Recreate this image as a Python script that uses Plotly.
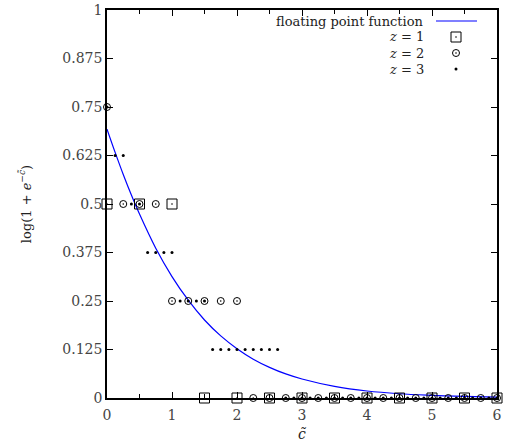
import plotly.graph_objects as go

# Blue curve samples
curve_x = [0, 0.125, 0.25, 0.375, 0.5, 0.75, 1, 1.25, 1.5, 1.75, 2, 2.25, 2.5, 2.75, 3, 3.5, 4, 4.5, 5, 5.5, 6]
curve_y = [0.693, 0.633, 0.576, 0.523, 0.474, 0.386, 0.313, 0.252, 0.201, 0.160, 0.127, 0.100, 0.079, 0.062,
           0.049, 0.030, 0.018, 0.011, 0.007, 0.004, 0.002]

# z = 1 (step 0.5)
z1_x = [0, 0.5, 1, 1.5, 2, 2.5, 3, 3.5, 4, 4.5, 5, 5.5, 6]
z1_y = [0.5, 0.5, 0.5, 0, 0, 0, 0, 0, 0, 0, 0, 0, 0]

# z = 2 (step 0.25)
z2_x = [0, 0.25, 0.5, 0.75, 1, 1.25, 1.5, 1.75, 2, 2.25, 2.5, 2.75, 3, 3.25, 3.5, 3.75, 4,
        4.25, 4.5, 4.75, 5, 5.25, 5.5, 5.75, 6]
z2_y = [0.75, 0.5, 0.5, 0.5, 0.25, 0.25, 0.25, 0.25, 0.25, 0, 0, 0, 0, 0, 0, 0, 0,
        0, 0, 0, 0, 0, 0, 0, 0]

# z = 3 (step 0.125)
z3_x = [0, 0.125, 0.25, 0.375, 0.5, 0.625, 0.75, 0.875, 1, 1.125, 1.25, 1.375, 1.5,
        1.625, 1.75, 1.875, 2, 2.125, 2.25, 2.375, 2.5, 2.625,
        2.75, 2.875, 3, 3.125, 3.25, 3.375, 3.5, 3.625, 3.75, 3.875, 4, 4.125, 4.25, 4.375, 4.5,
        4.625, 4.75, 4.875, 5, 5.125, 5.25, 5.375, 5.5, 5.625, 5.75, 5.875, 6]
z3_y = [0.75, 0.625, 0.625, 0.5, 0.5, 0.375, 0.375, 0.375, 0.375, 0.25, 0.25, 0.25, 0.25,
        0.125, 0.125, 0.125, 0.125, 0.125, 0.125, 0.125, 0.125, 0.125,
        0, 0, 0, 0, 0, 0, 0, 0, 0, 0, 0, 0, 0, 0, 0,
        0, 0, 0, 0, 0, 0, 0, 0, 0, 0, 0, 0]

x_ticks = [0, 1, 2, 3, 4, 5, 6]
y_ticks = [0, 0.125, 0.25, 0.375, 0.5, 0.625, 0.75, 0.875, 1]
y_ticktext = ["0", "0.125", "0.25", "0.375", "0.5", "0.625", "0.75", "0.875", "1"]

FONT = "'DejaVu Serif', 'Liberation Serif', serif"
W, H = 507, 447
L, R, T, B = 107, 10, 10, 49

fig = go.Figure()
fig.add_trace(go.Scatter(x=curve_x, y=curve_y, mode="lines", line=dict(color="#0000ff", width=1.2, shape="spline"),
                         showlegend=False, cliponaxis=True))
fig.add_trace(go.Scatter(x=z1_x, y=z1_y, mode="markers", cliponaxis=False, showlegend=False,
                         marker=dict(symbol="square-open-dot", size=10, color="black", line=dict(width=1, color="black"))))
fig.add_trace(go.Scatter(x=z2_x, y=z2_y, mode="markers", cliponaxis=False, showlegend=False,
                         marker=dict(symbol="circle-open-dot", size=7, color="black", line=dict(width=1, color="black"))))
fig.add_trace(go.Scatter(x=z3_x, y=z3_y, mode="markers", cliponaxis=False, showlegend=False,
                         marker=dict(symbol="circle", size=3, color="black", line=dict(width=0))))

pw, ph = W - L - R, H - T - B
def px2paper(px, py):
    return (px - L) / pw, (H - B - py) / ph

# manual legend (gnuplot style: text right, sample left)
leg_text = ["floating point function", "<i>z</i> = 1", "<i>z</i> = 2", "<i>z</i> = 3"]
leg_py = [21, 37, 53, 69]
for txt, py in zip(leg_text, leg_py):
    xp, yp = px2paper(426, py)
    fig.add_annotation(x=xp, y=yp, xref="paper", yref="paper", text=txt, showarrow=False,
                       xanchor="right", yanchor="middle", font=dict(family=FONT, size=13, color="#222"))
# line sample
x0, y0 = px2paper(436, leg_py[0])
x1, _ = px2paper(477, leg_py[0])
fig.add_shape(type="line", xref="paper", yref="paper", x0=x0, x1=x1, y0=y0, y1=y0,
              line=dict(color="#0000ff", width=1.2))
# marker samples via an overlay axis in paper space
lx, ly1 = px2paper(456, leg_py[1])
_, ly2 = px2paper(456, leg_py[2])
_, ly3 = px2paper(456, leg_py[3])
fig.add_trace(go.Scatter(x=[lx], y=[ly1], xaxis="x2", yaxis="y2", mode="markers", showlegend=False, cliponaxis=False,
                         marker=dict(symbol="square-open-dot", size=10, color="black", line=dict(width=1, color="black"))))
fig.add_trace(go.Scatter(x=[lx], y=[ly2], xaxis="x2", yaxis="y2", mode="markers", showlegend=False, cliponaxis=False,
                         marker=dict(symbol="circle-open-dot", size=7, color="black", line=dict(width=1, color="black"))))
fig.add_trace(go.Scatter(x=[lx], y=[ly3], xaxis="x2", yaxis="y2", mode="markers", showlegend=False, cliponaxis=False,
                         marker=dict(symbol="circle", size=3, color="black", line=dict(width=0))))

fig.update_layout(
    width=W, height=H,
    margin=dict(l=L, r=R, t=T, b=B),
    paper_bgcolor="white", plot_bgcolor="white",
    font=dict(family=FONT, size=13, color="#333"),
    xaxis=dict(range=[0, 6], tickvals=x_ticks, ticks="inside", ticklen=6, tickwidth=1, tickcolor="black",
               minor=dict(tickvals=[0.5, 1.5, 2.5, 3.5, 4.5, 5.5], ticks="inside", ticklen=4, tickcolor="black"),
               showline=True, linecolor="black", linewidth=1.5, mirror="allticks", showgrid=False, zeroline=False,
               automargin=False, ticklabelstandoff=3,
               title=dict(text="<i>c̃</i>", standoff=8, font=dict(family=FONT, size=14, color="#222")),
               tickfont=dict(family=FONT, size=14, color="#444")),
    yaxis=dict(range=[0, 1], tickvals=y_ticks, ticktext=y_ticktext, ticks="inside", ticklen=6, tickwidth=1,
               tickcolor="black", showline=True, linecolor="black", linewidth=1.5, mirror="allticks",
               showgrid=False, zeroline=False, automargin=False,
               title=dict(text="log(1 + <i>e</i><sup>−<i>c̃</i></sup>)", standoff=28,
                          font=dict(family=FONT, size=13, color="#222")),
               tickfont=dict(family=FONT, size=14, color="#444")),
    xaxis2=dict(range=[0, 1], overlaying="x", visible=False),
    yaxis2=dict(range=[0, 1], overlaying="y", visible=False),
)

fig.write_html("out.html")
